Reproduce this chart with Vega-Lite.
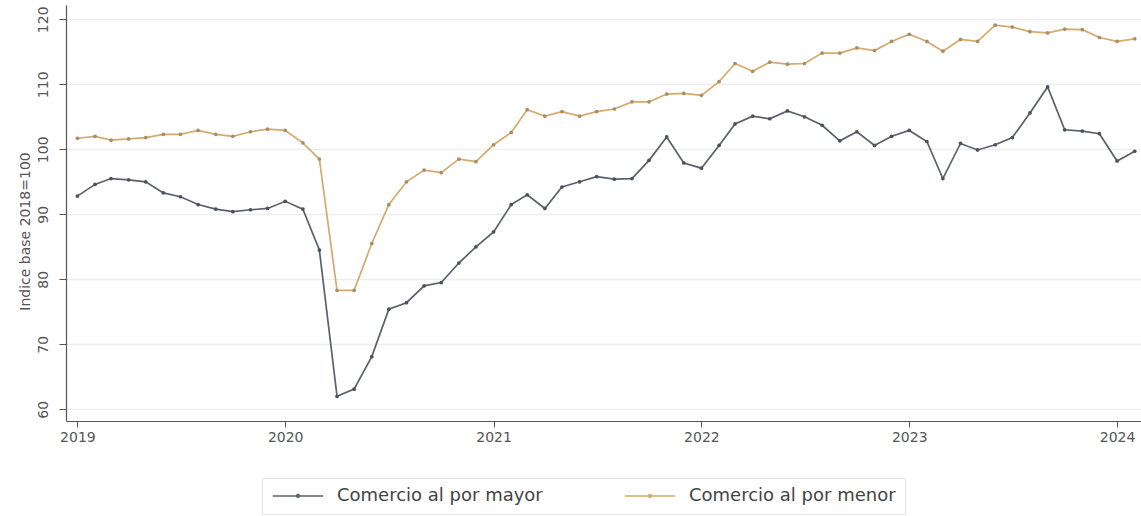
{
  "$schema": "https://vega.github.io/schema/vega-lite/v6.json",
  "width": 1075,
  "height": 416,
  "autosize": {"type": "none"},
  "padding": {"left": 66, "top": 5, "right": 0, "bottom": 95},
  "background": "white",
  "config": {
    "view": {"stroke": null},
    "font": "DejaVu Sans"
  },
  "data": {
    "format": {"parse": {"fecha": "date:'%Y-%m'"}},
    "values": [
      {"fecha": "2019-01", "Comercio al por mayor": 92.8, "Comercio al por menor": 101.7},
      {"fecha": "2019-02", "Comercio al por mayor": 94.6, "Comercio al por menor": 102.0},
      {"fecha": "2019-03", "Comercio al por mayor": 95.5, "Comercio al por menor": 101.4},
      {"fecha": "2019-04", "Comercio al por mayor": 95.3, "Comercio al por menor": 101.6},
      {"fecha": "2019-05", "Comercio al por mayor": 95.0, "Comercio al por menor": 101.8},
      {"fecha": "2019-06", "Comercio al por mayor": 93.3, "Comercio al por menor": 102.3},
      {"fecha": "2019-07", "Comercio al por mayor": 92.7, "Comercio al por menor": 102.3},
      {"fecha": "2019-08", "Comercio al por mayor": 91.5, "Comercio al por menor": 102.9},
      {"fecha": "2019-09", "Comercio al por mayor": 90.8, "Comercio al por menor": 102.3},
      {"fecha": "2019-10", "Comercio al por mayor": 90.4, "Comercio al por menor": 102.0},
      {"fecha": "2019-11", "Comercio al por mayor": 90.7, "Comercio al por menor": 102.7},
      {"fecha": "2019-12", "Comercio al por mayor": 90.9, "Comercio al por menor": 103.1},
      {"fecha": "2020-01", "Comercio al por mayor": 92.0, "Comercio al por menor": 102.9},
      {"fecha": "2020-02", "Comercio al por mayor": 90.8, "Comercio al por menor": 101.0},
      {"fecha": "2020-03", "Comercio al por mayor": 84.5, "Comercio al por menor": 98.5},
      {"fecha": "2020-04", "Comercio al por mayor": 62.0, "Comercio al por menor": 78.3},
      {"fecha": "2020-05", "Comercio al por mayor": 63.1, "Comercio al por menor": 78.3},
      {"fecha": "2020-06", "Comercio al por mayor": 68.1, "Comercio al por menor": 85.5},
      {"fecha": "2020-07", "Comercio al por mayor": 75.4, "Comercio al por menor": 91.5},
      {"fecha": "2020-08", "Comercio al por mayor": 76.4, "Comercio al por menor": 95.0},
      {"fecha": "2020-09", "Comercio al por mayor": 79.0, "Comercio al por menor": 96.8},
      {"fecha": "2020-10", "Comercio al por mayor": 79.5, "Comercio al por menor": 96.4},
      {"fecha": "2020-11", "Comercio al por mayor": 82.5, "Comercio al por menor": 98.5},
      {"fecha": "2020-12", "Comercio al por mayor": 85.0, "Comercio al por menor": 98.1},
      {"fecha": "2021-01", "Comercio al por mayor": 87.3, "Comercio al por menor": 100.7},
      {"fecha": "2021-02", "Comercio al por mayor": 91.5, "Comercio al por menor": 102.6},
      {"fecha": "2021-03", "Comercio al por mayor": 93.0, "Comercio al por menor": 106.1},
      {"fecha": "2021-04", "Comercio al por mayor": 90.9, "Comercio al por menor": 105.1},
      {"fecha": "2021-05", "Comercio al por mayor": 94.2, "Comercio al por menor": 105.8},
      {"fecha": "2021-06", "Comercio al por mayor": 95.0, "Comercio al por menor": 105.1},
      {"fecha": "2021-07", "Comercio al por mayor": 95.8, "Comercio al por menor": 105.8},
      {"fecha": "2021-08", "Comercio al por mayor": 95.4, "Comercio al por menor": 106.2},
      {"fecha": "2021-09", "Comercio al por mayor": 95.5, "Comercio al por menor": 107.3},
      {"fecha": "2021-10", "Comercio al por mayor": 98.3, "Comercio al por menor": 107.3},
      {"fecha": "2021-11", "Comercio al por mayor": 101.9, "Comercio al por menor": 108.5},
      {"fecha": "2021-12", "Comercio al por mayor": 97.9, "Comercio al por menor": 108.6},
      {"fecha": "2022-01", "Comercio al por mayor": 97.1, "Comercio al por menor": 108.3},
      {"fecha": "2022-02", "Comercio al por mayor": 100.6, "Comercio al por menor": 110.4},
      {"fecha": "2022-03", "Comercio al por mayor": 103.9, "Comercio al por menor": 113.2},
      {"fecha": "2022-04", "Comercio al por mayor": 105.1, "Comercio al por menor": 112.0},
      {"fecha": "2022-05", "Comercio al por mayor": 104.7, "Comercio al por menor": 113.4},
      {"fecha": "2022-06", "Comercio al por mayor": 105.9, "Comercio al por menor": 113.1},
      {"fecha": "2022-07", "Comercio al por mayor": 105.0, "Comercio al por menor": 113.2},
      {"fecha": "2022-08", "Comercio al por mayor": 103.7, "Comercio al por menor": 114.8},
      {"fecha": "2022-09", "Comercio al por mayor": 101.3, "Comercio al por menor": 114.8},
      {"fecha": "2022-10", "Comercio al por mayor": 102.7, "Comercio al por menor": 115.6},
      {"fecha": "2022-11", "Comercio al por mayor": 100.6, "Comercio al por menor": 115.2},
      {"fecha": "2022-12", "Comercio al por mayor": 102.0, "Comercio al por menor": 116.6},
      {"fecha": "2023-01", "Comercio al por mayor": 102.9, "Comercio al por menor": 117.7},
      {"fecha": "2023-02", "Comercio al por mayor": 101.2, "Comercio al por menor": 116.6},
      {"fecha": "2023-03", "Comercio al por mayor": 95.5, "Comercio al por menor": 115.1},
      {"fecha": "2023-04", "Comercio al por mayor": 100.9, "Comercio al por menor": 116.9},
      {"fecha": "2023-05", "Comercio al por mayor": 99.9, "Comercio al por menor": 116.6},
      {"fecha": "2023-06", "Comercio al por mayor": 100.7, "Comercio al por menor": 119.1},
      {"fecha": "2023-07", "Comercio al por mayor": 101.8, "Comercio al por menor": 118.8},
      {"fecha": "2023-08", "Comercio al por mayor": 105.6, "Comercio al por menor": 118.1},
      {"fecha": "2023-09", "Comercio al por mayor": 109.6, "Comercio al por menor": 117.9},
      {"fecha": "2023-10", "Comercio al por mayor": 103.0, "Comercio al por menor": 118.5},
      {"fecha": "2023-11", "Comercio al por mayor": 102.8, "Comercio al por menor": 118.4},
      {"fecha": "2023-12", "Comercio al por mayor": 102.4, "Comercio al por menor": 117.2},
      {"fecha": "2024-01", "Comercio al por mayor": 98.2, "Comercio al por menor": 116.6},
      {"fecha": "2024-02", "Comercio al por mayor": 99.7, "Comercio al por menor": 117.0}
    ]
  },
  "transform": [
    {"fold": ["Comercio al por mayor", "Comercio al por menor"], "as": ["serie", "valor"]}
  ],
  "encoding": {
    "x": {
      "field": "fecha",
      "type": "temporal",
      "scale": {"domain": [{"year": 2018, "month": 12, "date": 12}, {"year": 2024, "month": 2, "date": 12}]},
      "axis": {
        "title": null,
        "format": "%Y",
        "tickCount": {"interval": "year", "step": 1},
        "grid": false,
        "domainColor": "#555",
        "domainWidth": 1.2,
        "tickColor": "#555",
        "tickSize": 6,
        "labelFontSize": 14,
        "labelColor": "#555",
        "labelPadding": 3,
        "labelFlush": false
      }
    },
    "y": {
      "field": "valor",
      "type": "quantitative",
      "scale": {"domain": [58.2, 122.2], "nice": false, "zero": false},
      "axis": {
        "title": "Indice base 2018=100",
        "titleY": 226,
        "values": [60, 70, 80, 90, 100, 110, 120],
        "labelAngle": -90,
        "grid": true,
        "gridColor": "#eeeeee",
        "gridWidth": 1.5,
        "domainColor": "#555",
        "domainWidth": 1.2,
        "tickColor": "#555",
        "tickSize": 7,
        "labelFontSize": 14,
        "labelColor": "#555",
        "labelPadding": 9,
        "titleFontSize": 14,
        "titleFontWeight": "normal",
        "titleColor": "#555",
        "titlePadding": 4
      }
    }
  },
  "layer": [
    {
      "mark": {"type": "line", "strokeWidth": 1.7},
      "encoding": {
        "color": {
          "field": "serie",
          "type": "nominal",
          "scale": {"domain": ["Comercio al por mayor", "Comercio al por menor"], "range": ["#5b606a", "#d5aa6c"]},
          "legend": {
            "title": null,
            "orient": "none",
            "legendX": 196,
            "legendY": 473,
            "direction": "horizontal",
            "strokeColor": "#e2e2e2",
            "fillColor": "white",
            "padding": 9,
            "symbolType": "M-3.6,0H3.6M-0.2,0A0.2,0.2 0 1,0 0.2,0A0.2,0.2 0 1,0 -0.2,0",
            "symbolSize": 196,
            "symbolOffset": 18,
            "symbolStrokeWidth": 1.5,
            "labelFontSize": 18,
            "labelLimit": 400,
            "labelColor": "#444",
            "labelOffset": 30,
            "columnPadding": 78
          }
        }
      }
    },
    {
      "mark": {"type": "point", "filled": true, "size": 14, "opacity": 1},
      "encoding": {
        "fill": {
          "field": "serie",
          "type": "nominal",
          "scale": {"domain": ["Comercio al por mayor", "Comercio al por menor"], "range": ["#4c515b", "#a98d68"]},
          "legend": null
        }
      }
    }
  ]
}
